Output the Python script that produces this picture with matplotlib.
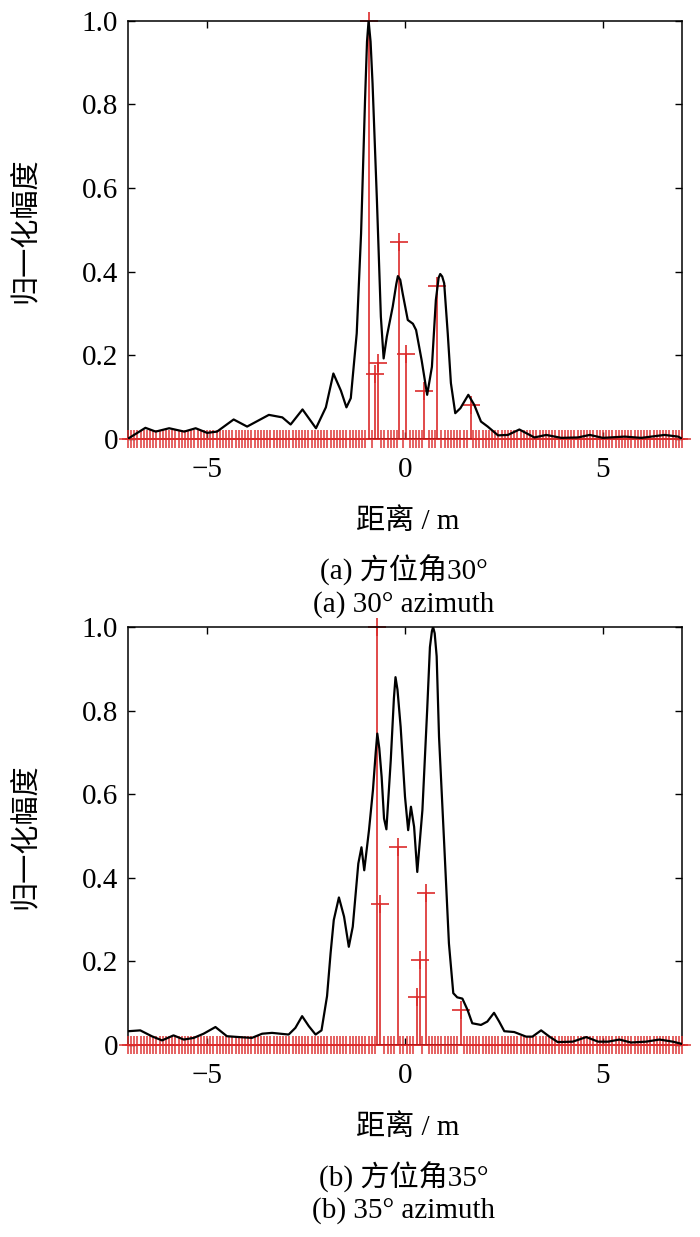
import numpy as np
import matplotlib.pyplot as plt

plt.rcParams['font.family'] = ['Liberation Serif', 'Noto Sans CJK SC']
plt.rcParams['axes.unicode_minus'] = True

# ---- data ----
# (a) 30 deg azimuth: range profile
top_x = [-7.0, -6.56, -6.30, -5.96, -5.58, -5.29, -5.0, -4.75, -4.33, -3.99,
         -3.44, -3.10, -2.89, -2.59, -2.25, -2.0, -1.81, -1.62, -1.48, -1.37,
         -1.22, -1.11, -1.01, -0.96, -0.92, -0.87, -0.82, -0.71, -0.61, -0.54,
         -0.46, -0.31, -0.22, -0.18, -0.12, -0.06, 0.07, 0.20, 0.28, 0.42,
         0.56, 0.68, 0.78, 0.85, 0.89, 0.94, 0.99, 1.08, 1.16, 1.27,
         1.40, 1.60, 1.75, 1.92, 2.09, 2.35, 2.60, 2.89, 3.27, 3.57,
         3.95, 4.37, 4.67, 5.0, 5.55, 5.97, 6.56, 6.9, 7.0]
top_y = [0.0, 0.026, 0.017, 0.025, 0.017, 0.025, 0.014, 0.017, 0.046, 0.029,
         0.057, 0.051, 0.034, 0.070, 0.025, 0.075, 0.156, 0.115, 0.075, 0.097,
         0.252, 0.491, 0.81, 0.95, 1.0, 0.95, 0.85, 0.571, 0.292, 0.192,
         0.244, 0.316, 0.37, 0.389, 0.38, 0.348, 0.284, 0.275, 0.26, 0.188,
         0.105, 0.172, 0.332, 0.385, 0.394, 0.388, 0.372, 0.252, 0.133, 0.061,
         0.073, 0.105, 0.081, 0.041, 0.029, 0.008, 0.009, 0.022, 0.003, 0.009,
         0.002, 0.003, 0.009, 0.002, 0.005, 0.002, 0.009, 0.005, 0.0]
top_spike_x = [-0.92, -0.76, -0.68, -0.14, 0.03, 0.49, 0.80, 1.67]
top_spike_y = [1.0, 0.155, 0.18, 0.471, 0.203, 0.115, 0.365, 0.081]

# (b) 35 deg azimuth: range profile
bot_x = [-6.99, -6.69, -6.40, -6.14, -5.85, -5.59, -5.34, -5.09, -4.79, -4.50,
         -4.20, -3.87, -3.61, -3.36, -3.15, -2.94, -2.77, -2.60, -2.43, -2.26,
         -2.11, -1.97, -1.88, -1.80, -1.67, -1.54, -1.42, -1.32, -1.18, -1.10,
         -1.03, -0.91, -0.81, -0.74, -0.70, -0.65, -0.59, -0.53, -0.47, -0.36,
         -0.28, -0.24, -0.19, -0.11, 0.0, 0.08, 0.15, 0.23, 0.31, 0.44,
         0.56, 0.63, 0.68, 0.71, 0.75, 0.80, 0.86, 0.99, 1.11, 1.22,
         1.32, 1.45, 1.58, 1.70, 1.92, 2.08, 2.25, 2.38, 2.51, 2.76,
         3.06, 3.22, 3.44, 3.65, 3.86, 4.24, 4.58, 4.88, 5.13, 5.42,
         5.71, 6.09, 6.43, 6.77, 6.98]
bot_y = [0.033, 0.035, 0.021, 0.011, 0.023, 0.013, 0.017, 0.027, 0.043, 0.021,
         0.019, 0.017, 0.027, 0.029, 0.027, 0.025, 0.041, 0.069, 0.045, 0.025,
         0.035, 0.117, 0.22, 0.299, 0.353, 0.307, 0.235, 0.283, 0.434, 0.473,
         0.418, 0.514, 0.61, 0.70, 0.745, 0.71, 0.641, 0.542, 0.516, 0.681,
         0.83, 0.880, 0.85, 0.761, 0.594, 0.514, 0.570, 0.522, 0.414, 0.562,
         0.801, 0.952, 0.99, 1.0, 0.985, 0.93, 0.737, 0.482, 0.243, 0.124,
         0.114, 0.111, 0.084, 0.052, 0.048, 0.056, 0.077, 0.056, 0.033, 0.031,
         0.020, 0.020, 0.035, 0.020, 0.007, 0.008, 0.019, 0.008, 0.008, 0.013,
         0.006, 0.008, 0.013, 0.008, 0.003]
bot_spike_x = [-0.70, -0.63, -0.17, 0.31, 0.38, 0.54, 1.41]
bot_spike_y = [1.0, 0.337, 0.473, 0.116, 0.203, 0.364, 0.084]

grid_step = 0.08          # spacing of the scatterer grid
x_ticks = [-5, 0, 5]
y_ticks = [0, 0.2, 0.4, 0.6, 0.8, 1.0]
y_ticklabels = ['0', '0.2', '0.4', '0.6', '0.8', '1.0']
ylabel = '归一化幅度'
xlabel = '距离 / m'
captions = [('(a) 方位角30°', '(a) 30° azimuth'),
            ('(b) 方位角35°', '(b) 35° azimuth')]

RED = '#dc2b2b'
W, H = 700, 1237


def draw_panel(ax, cx, cy, sx, sy):
    grid_x = np.round(np.arange(-7, 7 + 1e-6, grid_step), 3)
    zero_x = [g for g in grid_x if min(abs(g - s) for s in sx) > grid_step / 2]
    ax.plot(zero_x, np.zeros(len(zero_x)), '+', color=RED, ms=13, mew=1.3,
            alpha=0.8, clip_on=False, zorder=3)
    markers, stems, base = ax.stem(sx, sy, linefmt='-', markerfmt='+', basefmt='-')
    plt.setp(stems, color=RED, linewidth=1.2, clip_on=False)
    plt.setp(markers, color=RED, markersize=13, markeredgewidth=1.2, clip_on=False)
    plt.setp(base, color='#b01818', linewidth=1.3, zorder=3.5)
    ax.plot(cx, cy, color='black', linewidth=1.6, zorder=4)

    ax.set_xlim(-7, 7)
    ax.set_ylim(0, 1.0)
    ax.set_xticks(x_ticks)
    ax.set_yticks(y_ticks)
    ax.set_yticklabels(y_ticklabels)
    ax.tick_params(direction='in', top=True, right=True, length=5, width=1,
                   labelsize=21)
    ax.tick_params(axis='x', pad=13)
    ax.tick_params(axis='y', pad=7)
    for sp in ax.spines.values():
        sp.set_linewidth(1.1)


fig = plt.figure(figsize=(W / 100, H / 100), dpi=100)

panels = [(438.7, top_x, top_y, top_spike_x, top_spike_y),
          (1045.0, bot_x, bot_y, bot_spike_x, bot_spike_y)]

for (bottom_px, cx, cy, sx, sy), (cap_cn, cap_en) in zip(panels, captions):
    ax = fig.add_axes([128 / W, 1 - bottom_px / H, 554 / W, 418 / H])
    draw_panel(ax, cx, cy, sx, sy)
    mid = bottom_px - 209
    fig.text(25 / W, 1 - mid / H, ylabel, rotation=90, ha='center', va='center',
             fontsize=21, family=['Noto Sans CJK SC'])
    fig.text(408 / W, 1 - (bottom_px + 83) / H, xlabel, ha='center', va='center',
             fontsize=21)
    fig.text(404 / W, 1 - (bottom_px + 132) / H, cap_cn, ha='center', va='center',
             fontsize=21)
    fig.text(404 / W, 1 - (bottom_px + 166) / H, cap_en, ha='center', va='center',
             fontsize=21)

plt.savefig('out.png', dpi=100)
